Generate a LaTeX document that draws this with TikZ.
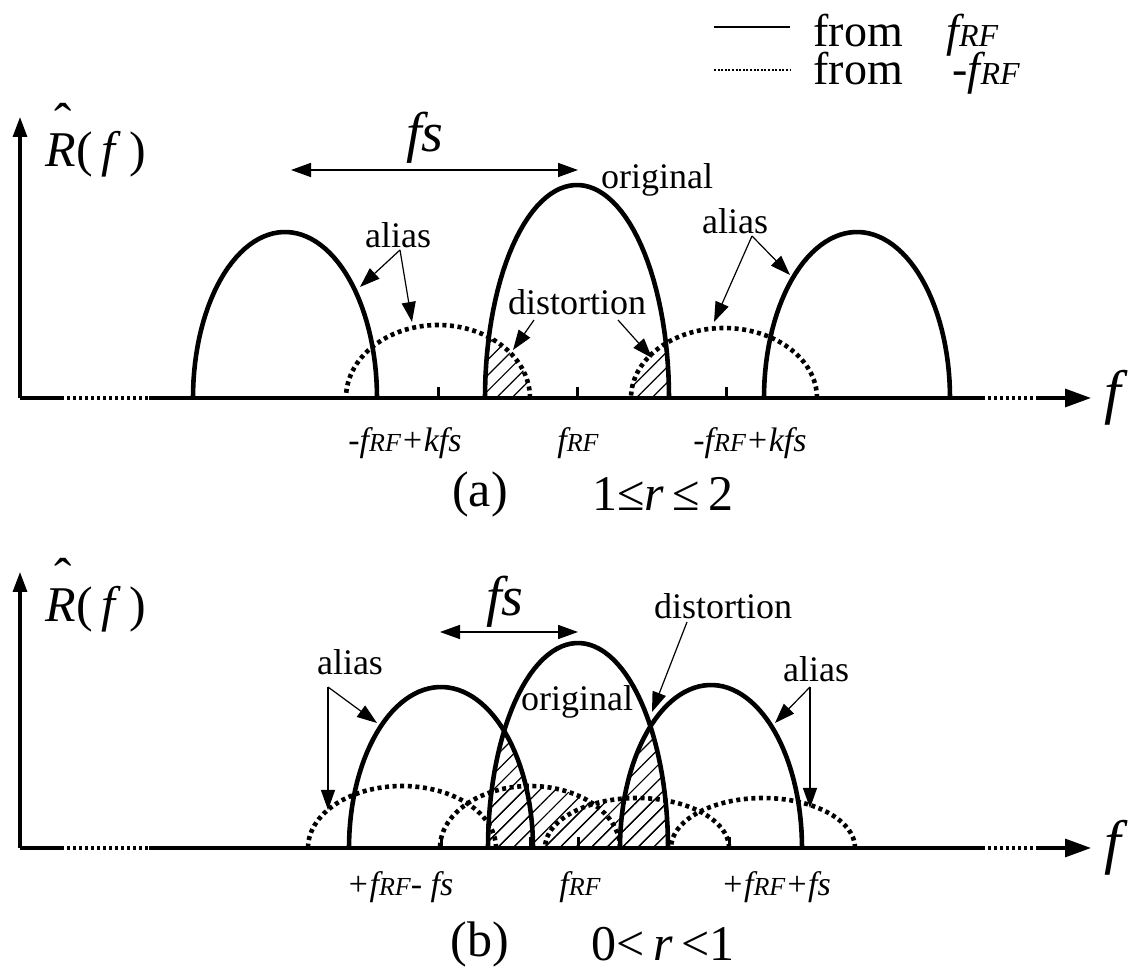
\documentclass[tikz,border=0pt]{standalone}
\usepackage{fontspec}
\setmainfont{Liberation Serif}
\usetikzlibrary{arrows.meta,patterns.meta}
\newcommand{\sRF}{{\fontsize{13}{13}\selectfont RF}}
\newcommand{\lRF}{{\fontsize{16}{16}\selectfont RF}}
\newcommand{\Rhat}{\rlap{\hspace{0.18em}\raisebox{0.55em}{\fontsize{26}{26}\selectfont\char"02C6}}\textit{R}}
\tikzset{
   every path/.style={>={Triangle[length=10pt,width=7pt]}},
   axis/.style={line width=1.6pt},
   axisdots/.style={line width=1.6pt,dash pattern=on 1.5pt off 1.5pt},
   orig/.style={line width=2.3pt},
   mirror/.style={line width=2.3pt,dash pattern=on 2pt off 1.8pt},
   pointer/.style={->,line width=0.6pt},
   spacing/.style={<->,line width=0.8pt},
   hatch/.style={pattern={Lines[angle=45,distance=5.5pt,line width=0.6pt]}},
   tickmark/.style={line width=1.5pt},
   lbl/.style={font=\fontsize{18}{18}\selectfont,inner sep=0pt},
   freq/.style={font=\fontsize{17}{17}\selectfont\itshape,inner sep=0pt},
   capt/.style={font=\fontsize{25}{25}\selectfont,inner sep=0pt},
   leg/.style={font=\fontsize{23}{23}\selectfont,inner sep=0pt,anchor=base west},
}
\begin{document}
\begin{tikzpicture}[x=0.5pt,y=-0.5pt]
  \useasboundingbox (0,0) rectangle (1137,972);

  % legend
  \coordinate (l1a) at (714,27);  \coordinate (l1b) at (790,27);
  \coordinate (l2a) at (714,70);  \coordinate (l2b) at (790,70);
  \draw [line width=1.3pt] (l1a) -- (l1b);
  \draw [line width=1.2pt,dash pattern=on 1pt off 0.8pt] (l2a) -- (l2b);
  \node [leg] (lf1) at (813,47) {from};
  \node [leg] (lr1) at (946,47) {\itshape f\lRF};
  \node [leg] (lf2) at (813,85) {from};
  \node [leg] (lr2) at (952,85) {\itshape -f\lRF};

  % ---- panel (a)
  \coordinate (ao) at (20,398);
  \coordinate (ay) at (20,117);
  \coordinate (ax) at (1091,398);
  \begin{scope}
    \clip plot[domain=0:180,samples=60] ({577+92*cos(\x)},{398-213*sin(\x)}) -- cycle;
    \foreach \cx/\rx/\ry in {438/92/73,724/93/70}
      \fill[hatch] plot[domain=0:180,samples=60] ({\cx+\rx*cos(\x)},{398-\ry*sin(\x)}) -- cycle;
  \end{scope}
  \foreach \cx/\rx/\ry in {438/92/73,724/93/70}
    \draw[mirror] plot[domain=0:180,samples=60] ({\cx+\rx*cos(\x)},{398-\ry*sin(\x)});
  \foreach \cx/\rx/\ry in {285/92/166,577/92/213,857/93/166}
    \draw[orig] plot[domain=0:180,samples=60] ({\cx+\rx*cos(\x)},{398-\ry*sin(\x)});
  \draw [axis,->] (ao) -- (ay);
  \draw [axis,-{Triangle[length=13pt,width=9pt]}] (ao) -- (ax);
  \draw [line width=2pt,white] (61,398) -- (149,398) (982,398) -- (1036,398);
  \draw [axisdots] (61,398) -- (149,398) (982,398) -- (1036,398);
  \foreach \t in {438,577,726}
    \draw [tickmark] (\t,398) -- (\t,387);

  \node (aR) at (96,140) {\fontsize{25}{25}\selectfont\Rhat(\,\textit{f}\,)};
  \node (af) at (1113,398) {\fontsize{30}{30}\selectfont\itshape f};
  \coordinate (afs1) at (291,170); \coordinate (afs2) at (578,170);
  \draw [spacing] (afs1) -- (afs2);
  \node (afs) at (425,138) {\fontsize{28}{28}\selectfont\itshape fs};

  \node [lbl] (aal1) at (398,235) {alias};
  \coordinate (aal1s) at (400,250);
  \coordinate (aal1t1) at (360,287); \coordinate (aal1t2) at (412,322);
  \draw [pointer] (aal1s) -- (aal1t1);
  \draw [pointer] (aal1s) -- (aal1t2);
  \node [lbl] (aorig) at (657,180) {original};
  \node [lbl] (aal2) at (735,221) {alias};
  \coordinate (aal2s) at (752,236);
  \coordinate (aal2t1) at (790,275); \coordinate (aal2t2) at (714,322);
  \draw [pointer] (aal2s) -- (aal2t1);
  \draw [pointer] (aal2s) -- (aal2t2);
  \node [lbl] (adist) at (577,302) {distortion};
  \coordinate (ad1s) at (534,320); \coordinate (ad1t) at (513,350);
  \coordinate (ad2s) at (618,320); \coordinate (ad2t) at (652,358);
  \draw [pointer] (ad1s) -- (ad1t);
  \draw [pointer] (ad2s) -- (ad2t);

  \node [freq] (ak1) at (405,443) {-f\sRF+kfs};
  \node [freq] (ak0) at (578,443) {f\sRF};
  \node [freq] (ak2) at (750,443) {-f\sRF+kfs};
  \node [capt] (acap) at (480,494) {(a)};
  \node [capt] (acond) at (663,494) {1≤\textit{r}\,≤\,2};

  % ---- panel (b)
  \begin{scope}[yshift=-225pt]
  \coordinate (bo) at (20,398);
  \coordinate (by) at (20,122);
  \coordinate (bx) at (1091,398);
  \begin{scope}
    \clip plot[domain=0:180,samples=60] ({578+90*cos(\x)},{398-205*sin(\x)}) -- cycle;
    \foreach \cx/\rx/\ry in {441/92/161,711/91/163,402/94/62,530/90/62,637/92/50,763/92/50}
      \fill[hatch] plot[domain=0:180,samples=60] ({\cx+\rx*cos(\x)},{398-\ry*sin(\x)}) -- cycle;
  \end{scope}
  \foreach \cx/\rx/\ry in {402/94/62,530/90/62,637/92/50,763/92/50}
    \draw[mirror] plot[domain=0:180,samples=60] ({\cx+\rx*cos(\x)},{398-\ry*sin(\x)});
  \foreach \cx/\rx/\ry in {441/92/161,578/90/205,711/91/163}
    \draw[orig] plot[domain=0:180,samples=60] ({\cx+\rx*cos(\x)},{398-\ry*sin(\x)});
  \draw [axis,->] (bo) -- (by);
  \draw [axis,-{Triangle[length=13pt,width=9pt]}] (bo) -- (bx);
  \draw [line width=2pt,white] (61,398) -- (149,398) (982,398) -- (1036,398);
  \draw [axisdots] (61,398) -- (149,398) (982,398) -- (1036,398);
  \foreach \t in {441,530,578,729}
    \draw [tickmark] (\t,398) -- (\t,387);

  \node (bR) at (96,145) {\fontsize{25}{25}\selectfont\Rhat(\,\textit{f}\,)};
  \node (bf) at (1113,398) {\fontsize{30}{30}\selectfont\itshape f};
  \coordinate (bfs1) at (440,182); \coordinate (bfs2) at (578,182);
  \draw [spacing] (bfs1) -- (bfs2);
  \node (bfs) at (505,152) {\fontsize{28}{28}\selectfont\itshape fs};

  \node [lbl] (bal1) at (350,212) {alias};
  \coordinate (bal1s) at (328,237);
  \coordinate (bal1t1) at (377,273); \coordinate (bal1t2) at (328,360);
  \draw [pointer] (bal1s) -- (bal1t1);
  \draw [pointer] (bal1s) -- (bal1t2);
  \node [lbl] (bal2) at (816,219) {alias};
  \coordinate (bal2s) at (810,237);
  \coordinate (bal2t1) at (775,273); \coordinate (bal2t2) at (810,358);
  \draw [pointer] (bal2s) -- (bal2t1);
  \draw [pointer] (bal2s) -- (bal2t2);
  \node [lbl] (bdist) at (723,156) {distortion};
  \coordinate (bds) at (687,172); \coordinate (bdt) at (652,262);
  \draw [pointer] (bds) -- (bdt);
  \node [lbl] (borig) at (577,252) {original};

  \node [freq] (bk1) at (400,437) {+f\sRF- fs};
  \node [freq] (bk0) at (580,437) {f\sRF};
  \node [freq] (bk2) at (776,437) {+f\sRF+fs};
  \node [capt] (bcap) at (480,494) {(b)};
  \node [capt] (bcond) at (663,494) {0<\,\textit{r}\,<1};
  \end{scope}
\end{tikzpicture}
\end{document}
